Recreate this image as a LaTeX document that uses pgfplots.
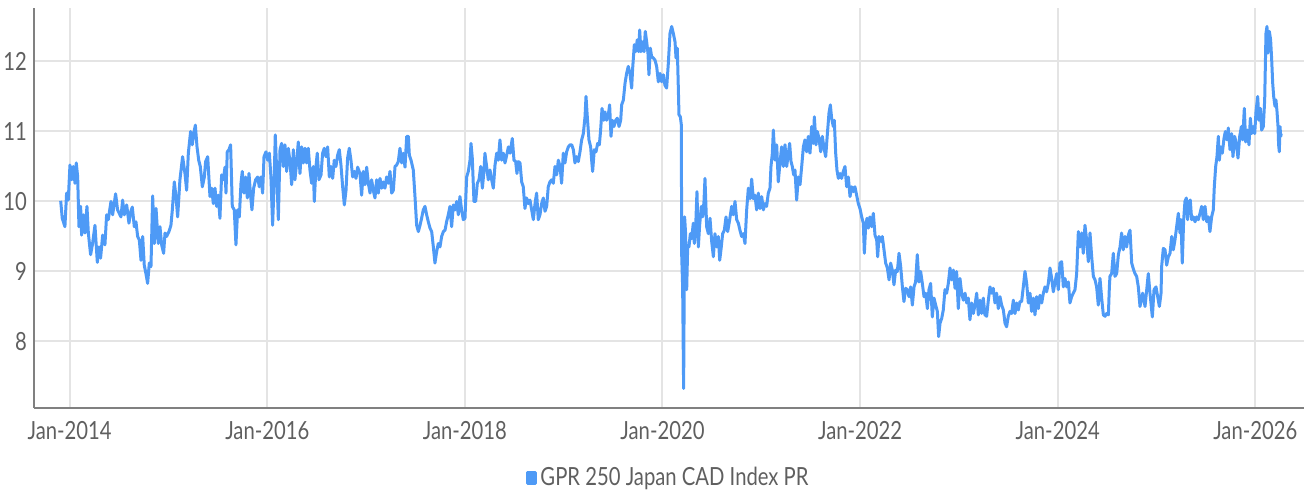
\documentclass[border=0pt]{standalone}
\usepackage{pgfplots}
\pgfplotsset{compat=1.18}
\usepackage{fontspec}
\setmainfont{Lato}[FakeStretch=0.81]
\definecolor{lineblue}{RGB}{78,154,246}
\definecolor{gridgray}{RGB}{228,228,228}
\definecolor{axisgray}{RGB}{128,128,128}
\definecolor{labelgray}{RGB}{95,95,95}
\begin{document}
\begin{tikzpicture}
\path[use as bounding box] (0,0) rectangle (653pt,246.5pt);
\begin{axis}[
  at={(17pt,42.75pt)}, anchor=south west,
  scale only axis, width=635pt, height=199.75pt,
  xmin=2013.639, xmax=2026.493, ymin=7.057, ymax=12.764,
  axis lines*=left,
  axis line style={axisgray, line width=1pt},
  xtick={2014,2016,2018,2020,2022,2024,2026},
  xticklabels={Jan-2014,Jan-2016,Jan-2018,Jan-2020,Jan-2022,Jan-2024,Jan-2026},
  ytick={8,9,10,11,12},
  grid=major,
  major grid style={gridgray, line width=1pt},
  major tick length=0pt,
  tick style={draw=none},
  /pgf/number format/assume math mode=true,
  tick label style={font=\fontsize{12.5pt}{14pt}\selectfont, text=labelgray},
  xticklabel style={yshift=-3.5pt},
  legend style={at={(0.5,-0.1765)}, anchor=center, draw=none, fill=none,
    font=\fontsize{12.5pt}{14pt}\selectfont, text=labelgray,
    /tikz/every even column/.append style={column sep=0pt}},
  legend image code/.code={\fill[lineblue] (0pt,-2.75pt) rectangle (4pt,2.75pt);},
]
\addplot[lineblue, line width=1.5pt, line join=round] table[x=x, y=y] {
x y
2013.909 10.01
2013.925 9.76
2013.952 9.64
2013.969 10.12
2013.986 10.02
2014.003 10.52
2014.020 10.31
2014.037 10.50
2014.054 10.26
2014.067 10.55
2014.081 10.35
2014.094 9.64
2014.111 9.93
2014.121 9.52
2014.138 9.81
2014.155 9.55
2014.175 9.93
2014.189 9.55
2014.212 9.24
2014.232 9.40
2014.256 9.66
2014.280 9.13
2014.297 9.35
2014.313 9.19
2014.334 9.52
2014.357 9.38
2014.374 9.81
2014.391 9.74
2014.418 10.00
2014.435 9.81
2014.465 10.11
2014.485 9.88
2014.502 9.83
2014.519 9.78
2014.536 10.02
2014.553 9.81
2014.577 9.95
2014.600 9.69
2014.617 9.85
2014.634 9.92
2014.654 9.64
2014.671 9.71
2014.688 9.50
2014.705 9.45
2014.722 9.16
2014.739 9.50
2014.755 9.09
2014.772 8.97
2014.789 8.83
2014.806 9.12
2014.823 9.07
2014.840 10.08
2014.857 9.40
2014.874 9.90
2014.897 9.40
2014.914 9.64
2014.931 9.38
2014.951 9.26
2014.965 9.55
2014.981 9.50
2015.005 9.57
2015.025 9.66
2015.039 9.88
2015.059 10.28
2015.076 10.07
2015.093 9.78
2015.116 10.31
2015.143 10.64
2015.167 10.40
2015.184 10.16
2015.201 10.69
2015.224 11.00
2015.241 10.81
2015.255 10.97
2015.272 11.09
2015.289 10.78
2015.306 10.59
2015.322 10.50
2015.343 10.21
2015.363 10.35
2015.376 10.57
2015.397 10.64
2015.420 10.07
2015.437 10.19
2015.454 9.97
2015.471 10.19
2015.487 9.93
2015.504 10.09
2015.521 9.76
2015.538 10.38
2015.555 10.31
2015.572 10.49
2015.582 10.12
2015.595 10.71
2015.612 10.74
2015.629 10.81
2015.646 9.93
2015.666 9.88
2015.683 9.38
2015.700 9.88
2015.717 9.78
2015.734 10.26
2015.747 10.43
2015.764 10.12
2015.781 10.35
2015.798 10.05
2015.815 10.40
2015.832 10.07
2015.845 9.88
2015.862 10.19
2015.882 10.31
2015.903 10.35
2015.919 10.21
2015.936 10.35
2015.953 10.12
2015.967 10.64
2015.987 10.71
2016.004 10.59
2016.021 10.69
2016.037 10.35
2016.054 9.66
2016.068 10.21
2016.081 10.95
2016.095 10.45
2016.112 9.74
2016.129 10.74
2016.145 10.83
2016.162 10.50
2016.179 10.81
2016.196 10.43
2016.213 10.76
2016.230 10.57
2016.247 10.24
2016.264 10.74
2016.280 10.31
2016.297 10.55
2016.314 10.85
2016.331 10.40
2016.348 10.78
2016.365 10.55
2016.382 10.76
2016.398 10.55
2016.415 10.76
2016.432 10.45
2016.449 10.26
2016.466 10.50
2016.476 10.00
2016.493 10.50
2016.506 10.69
2016.523 10.31
2016.544 10.38
2016.560 10.69
2016.577 10.76
2016.594 10.64
2016.611 10.78
2016.628 10.35
2016.645 10.50
2016.662 10.33
2016.678 10.59
2016.695 10.50
2016.712 10.66
2016.729 10.74
2016.746 10.52
2016.763 10.21
2016.780 9.95
2016.797 10.16
2016.813 10.62
2016.830 10.76
2016.847 10.59
2016.864 10.35
2016.881 10.43
2016.898 10.33
2016.915 10.49
2016.938 10.40
2016.955 10.09
2016.972 10.43
2016.989 10.24
2017.006 10.49
2017.023 10.26
2017.040 10.12
2017.056 10.31
2017.073 10.16
2017.090 10.05
2017.107 10.31
2017.124 10.12
2017.141 10.33
2017.158 10.19
2017.174 10.28
2017.191 10.19
2017.208 10.35
2017.225 10.26
2017.242 10.43
2017.259 10.12
2017.276 10.16
2017.293 10.50
2017.309 10.52
2017.326 10.57
2017.343 10.76
2017.360 10.55
2017.377 10.69
2017.394 10.49
2017.411 10.93
2017.428 10.93
2017.438 10.66
2017.455 10.59
2017.478 10.45
2017.495 10.07
2017.512 9.66
2017.529 9.57
2017.546 9.66
2017.562 9.76
2017.579 9.88
2017.596 9.93
2017.613 9.81
2017.630 9.71
2017.647 9.62
2017.664 9.57
2017.681 9.35
2017.697 9.12
2017.714 9.28
2017.731 9.40
2017.748 9.35
2017.765 9.50
2017.782 9.57
2017.799 9.59
2017.815 9.71
2017.832 9.81
2017.849 9.93
2017.866 9.64
2017.883 9.95
2017.900 9.88
2017.917 10.00
2017.934 9.81
2017.950 10.07
2017.967 9.88
2017.984 9.74
2018.001 9.76
2018.018 10.35
2018.035 10.43
2018.052 10.59
2018.062 10.83
2018.075 10.62
2018.092 10.00
2018.109 10.00
2018.126 10.26
2018.143 10.31
2018.160 10.50
2018.177 10.19
2018.193 10.43
2018.203 10.69
2018.220 10.50
2018.237 10.31
2018.254 10.45
2018.271 10.31
2018.288 10.19
2018.305 10.52
2018.322 10.69
2018.338 10.59
2018.355 10.88
2018.372 10.59
2018.389 10.69
2018.406 10.55
2018.423 10.66
2018.440 10.78
2018.457 10.69
2018.480 10.90
2018.497 10.59
2018.514 10.57
2018.527 10.40
2018.541 10.57
2018.558 10.55
2018.575 10.28
2018.591 10.21
2018.608 9.90
2018.625 10.05
2018.642 9.97
2018.659 10.02
2018.676 9.88
2018.693 9.74
2018.710 9.97
2018.726 10.12
2018.743 9.74
2018.760 9.81
2018.777 9.97
2018.794 10.05
2018.811 9.86
2018.828 9.93
2018.844 10.21
2018.861 10.28
2018.878 10.31
2018.895 10.26
2018.912 10.50
2018.929 10.38
2018.946 10.59
2018.963 10.50
2018.979 10.26
2018.996 10.69
2019.013 10.55
2019.030 10.71
2019.047 10.78
2019.064 10.81
2019.081 10.81
2019.098 10.74
2019.114 10.55
2019.131 10.64
2019.148 10.57
2019.165 10.71
2019.182 10.88
2019.199 10.97
2019.216 11.21
2019.226 11.50
2019.239 11.21
2019.256 10.88
2019.273 10.78
2019.283 10.59
2019.293 10.43
2019.310 10.74
2019.327 10.71
2019.344 10.83
2019.361 10.81
2019.374 11.02
2019.388 11.33
2019.405 11.16
2019.418 11.28
2019.435 11.16
2019.452 11.24
2019.465 11.38
2019.479 10.93
2019.492 11.16
2019.509 11.07
2019.526 11.16
2019.543 11.19
2019.560 11.07
2019.577 11.16
2019.587 11.38
2019.604 11.45
2019.621 11.69
2019.637 11.83
2019.654 11.93
2019.671 11.83
2019.688 11.62
2019.698 11.90
2019.715 12.24
2019.728 12.14
2019.745 12.31
2019.759 12.14
2019.769 12.45
2019.782 12.14
2019.799 12.28
2019.813 12.14
2019.826 12.43
2019.840 12.28
2019.853 12.12
2019.863 11.81
2019.877 12.19
2019.890 12.07
2019.907 12.05
2019.924 12.02
2019.941 11.93
2019.958 11.71
2019.975 11.83
2019.992 11.71
2020.009 11.81
2020.025 11.66
2020.042 11.62
2020.059 11.97
2020.076 12.40
2020.093 12.50
2020.110 12.40
2020.127 12.28
2020.137 12.05
2020.150 12.19
2020.160 11.64
2020.167 11.24
2020.181 11.21
2020.191 11.09
2020.194 9.26
2020.204 8.78
2020.214 7.33
2020.224 9.78
2020.234 9.54
2020.245 8.74
2020.255 9.35
2020.268 9.35
2020.282 9.54
2020.295 9.47
2020.312 9.69
2020.322 9.40
2020.336 9.64
2020.349 10.14
2020.363 9.35
2020.376 9.66
2020.393 9.93
2020.407 9.78
2020.420 10.00
2020.430 10.33
2020.447 9.64
2020.464 9.54
2020.481 9.76
2020.498 9.43
2020.515 9.21
2020.531 9.54
2020.548 9.35
2020.565 9.50
2020.579 9.16
2020.592 9.31
2020.609 9.54
2020.626 9.59
2020.643 9.78
2020.660 9.57
2020.680 9.74
2020.700 9.93
2020.717 9.81
2020.734 10.00
2020.751 9.74
2020.768 9.69
2020.784 9.59
2020.801 9.50
2020.818 9.54
2020.835 9.40
2020.852 9.88
2020.869 10.19
2020.886 10.04
2020.903 10.32
2020.919 10.04
2020.936 10.09
2020.953 9.88
2020.970 10.12
2020.987 9.90
2021.004 10.07
2021.021 9.88
2021.037 9.97
2021.054 9.93
2021.071 10.12
2021.088 10.19
2021.098 10.50
2021.112 10.69
2021.122 11.02
2021.139 10.59
2021.156 10.81
2021.172 10.28
2021.189 10.55
2021.206 10.78
2021.223 10.50
2021.240 10.81
2021.257 10.50
2021.274 10.69
2021.287 10.83
2021.301 10.57
2021.314 10.50
2021.328 10.38
2021.341 10.45
2021.358 10.02
2021.375 10.35
2021.392 10.24
2021.409 10.50
2021.426 10.78
2021.442 10.88
2021.459 10.71
2021.476 10.93
2021.493 10.69
2021.510 11.07
2021.527 10.83
2021.537 11.21
2021.554 10.81
2021.567 11.00
2021.584 10.90
2021.601 10.71
2021.618 10.93
2021.635 10.76
2021.652 10.64
2021.668 10.95
2021.685 11.26
2021.699 11.38
2021.712 11.19
2021.729 11.07
2021.739 11.16
2021.753 10.69
2021.766 10.45
2021.780 10.33
2021.797 10.40
2021.813 10.33
2021.830 10.43
2021.847 10.50
2021.864 10.21
2021.881 10.35
2021.898 10.07
2021.915 10.21
2021.932 10.14
2021.948 10.21
2021.965 10.09
2021.982 9.97
2021.999 9.90
2022.016 9.78
2022.033 9.69
2022.043 9.26
2022.056 9.64
2022.070 9.76
2022.083 9.62
2022.100 9.78
2022.117 9.64
2022.134 9.83
2022.151 9.52
2022.168 9.45
2022.178 9.21
2022.191 9.50
2022.212 9.43
2022.225 9.50
2022.242 9.31
2022.259 9.12
2022.276 9.05
2022.293 8.88
2022.309 9.12
2022.326 9.02
2022.343 8.81
2022.360 9.02
2022.377 9.00
2022.394 9.26
2022.411 9.07
2022.428 8.78
2022.444 8.57
2022.461 8.76
2022.478 8.74
2022.495 8.64
2022.512 8.78
2022.529 8.52
2022.546 8.78
2022.562 8.85
2022.579 9.24
2022.596 8.85
2022.613 9.00
2022.630 8.83
2022.647 8.64
2022.664 8.69
2022.681 8.47
2022.697 8.74
2022.714 8.83
2022.731 8.35
2022.748 8.62
2022.765 8.52
2022.782 8.43
2022.795 8.07
2022.809 8.26
2022.826 8.33
2022.842 8.45
2022.859 8.74
2022.876 8.69
2022.893 8.83
2022.910 9.05
2022.927 8.88
2022.944 9.02
2022.961 8.76
2022.977 9.00
2022.994 8.47
2023.011 8.90
2023.028 8.69
2023.045 8.59
2023.062 8.69
2023.079 8.55
2023.095 8.62
2023.112 8.31
2023.129 8.55
2023.146 8.40
2023.163 8.52
2023.180 8.69
2023.197 8.38
2023.214 8.59
2023.230 8.40
2023.247 8.62
2023.264 8.38
2023.281 8.36
2023.298 8.59
2023.315 8.78
2023.332 8.69
2023.348 8.76
2023.365 8.55
2023.382 8.69
2023.399 8.47
2023.416 8.64
2023.433 8.52
2023.450 8.45
2023.467 8.26
2023.483 8.21
2023.500 8.36
2023.517 8.43
2023.534 8.40
2023.551 8.59
2023.568 8.40
2023.585 8.55
2023.602 8.45
2023.618 8.57
2023.635 8.57
2023.652 8.78
2023.669 9.00
2023.686 8.83
2023.703 8.55
2023.720 8.69
2023.736 8.43
2023.753 8.62
2023.770 8.38
2023.787 8.64
2023.804 8.47
2023.821 8.66
2023.838 8.55
2023.855 8.69
2023.871 8.78
2023.888 8.71
2023.905 8.83
2023.922 9.05
2023.939 8.90
2023.956 8.71
2023.973 8.85
2023.990 8.97
2024.006 8.74
2024.023 9.12
2024.040 9.14
2024.057 8.78
2024.074 8.90
2024.091 8.78
2024.108 8.85
2024.124 8.55
2024.141 8.64
2024.158 8.69
2024.175 8.74
2024.192 8.97
2024.209 9.57
2024.226 9.35
2024.243 9.55
2024.259 9.26
2024.276 9.66
2024.293 9.45
2024.310 9.14
2024.327 9.55
2024.344 9.21
2024.361 8.93
2024.378 8.88
2024.394 8.78
2024.411 8.52
2024.428 8.90
2024.445 8.62
2024.462 8.38
2024.479 8.36
2024.496 8.40
2024.513 8.38
2024.523 8.78
2024.529 8.93
2024.546 8.97
2024.563 9.26
2024.580 8.93
2024.597 8.97
2024.614 9.24
2024.631 9.35
2024.647 9.55
2024.664 9.31
2024.681 9.50
2024.698 9.35
2024.715 9.52
2024.732 9.59
2024.749 9.12
2024.765 9.04
2024.782 8.97
2024.799 8.93
2024.816 8.78
2024.833 8.50
2024.860 8.69
2024.884 8.50
2024.901 8.74
2024.917 8.97
2024.934 8.69
2024.958 8.35
2024.975 8.74
2024.995 8.78
2025.012 8.64
2025.029 8.50
2025.046 8.69
2025.052 9.07
2025.069 9.33
2025.086 9.31
2025.103 9.09
2025.120 9.21
2025.137 9.26
2025.154 9.50
2025.170 9.31
2025.187 9.45
2025.204 9.64
2025.221 9.83
2025.238 9.55
2025.248 9.74
2025.261 9.12
2025.275 9.74
2025.288 10.00
2025.302 10.05
2025.315 9.74
2025.329 10.00
2025.342 10.02
2025.356 9.74
2025.373 9.78
2025.390 9.71
2025.406 9.78
2025.423 9.74
2025.440 9.83
2025.457 9.93
2025.474 9.74
2025.491 9.93
2025.508 9.71
2025.525 9.78
2025.541 9.57
2025.558 9.78
2025.575 9.88
2025.585 10.21
2025.599 10.50
2025.612 10.64
2025.626 10.93
2025.636 10.59
2025.649 10.78
2025.666 10.69
2025.683 10.90
2025.697 11.00
2025.713 10.88
2025.727 11.05
2025.744 10.74
2025.761 10.97
2025.774 10.64
2025.791 10.93
2025.808 10.83
2025.825 10.62
2025.842 10.93
2025.859 11.07
2025.872 10.88
2025.889 11.33
2025.902 10.85
2025.919 11.02
2025.936 10.81
2025.950 11.19
2025.963 10.97
2025.977 11.07
2025.994 10.97
2026.007 11.28
2026.024 11.50
2026.037 11.16
2026.051 11.33
2026.064 11.02
2026.081 11.07
2026.095 11.45
2026.108 12.40
2026.118 12.50
2026.128 12.12
2026.142 12.43
2026.155 12.31
2026.166 12.02
2026.176 11.69
2026.186 11.50
2026.199 11.36
2026.209 11.45
2026.220 11.28
2026.230 11.07
2026.236 10.81
2026.243 10.71
2026.250 11.07
2026.257 10.93
2026.263 10.97
};
\addlegendentry{GPR 250 Japan CAD Index PR}
\end{axis}
\end{tikzpicture}
\end{document}
